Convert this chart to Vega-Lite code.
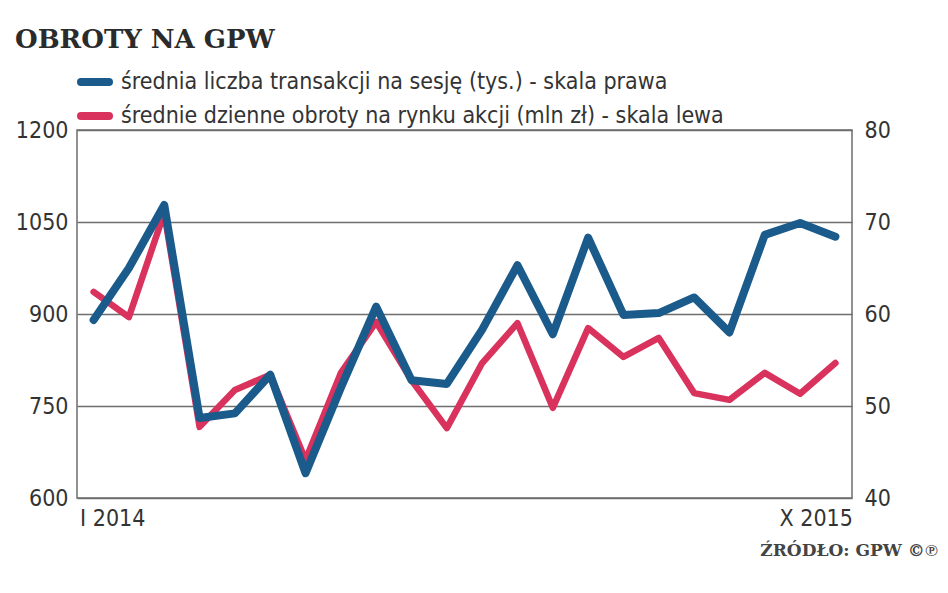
{
  "$schema": "https://vega.github.io/schema/vega-lite/v6.json",
  "width": 775,
  "height": 368,
  "autosize": {"type": "none"},
  "padding": {"left": 77, "top": 130, "right": 96, "bottom": 95},
  "background": "white",
  "title": {
    "text": "OBROTY NA GPW",
    "anchor": "start",
    "frame": "group",
    "font": "DejaVu Serif",
    "fontWeight": "bold",
    "fontSize": 26,
    "color": "#2b2b2b",
    "dx": -62,
    "offset": 11
  },
  "data": {
    "values": [
      {"m": "2014-01", "blue": 59.35, "red": 936},
      {"m": "2014-02", "blue": 65.0, "red": 895},
      {"m": "2014-03", "blue": 71.85, "red": 1065},
      {"m": "2014-04", "blue": 48.7, "red": 716},
      {"m": "2014-05", "blue": 49.2, "red": 776},
      {"m": "2014-06", "blue": 53.4, "red": 801},
      {"m": "2014-07", "blue": 42.7, "red": 662},
      {"m": "2014-08", "blue": 52.0, "red": 804},
      {"m": "2014-09", "blue": 60.8, "red": 887},
      {"m": "2014-10", "blue": 52.8, "red": 792},
      {"m": "2014-11", "blue": 52.4, "red": 714},
      {"m": "2014-12", "blue": 58.3, "red": 820},
      {"m": "2015-01", "blue": 65.3, "red": 885},
      {"m": "2015-02", "blue": 57.8, "red": 747},
      {"m": "2015-03", "blue": 68.3, "red": 877},
      {"m": "2015-04", "blue": 59.9, "red": 830},
      {"m": "2015-05", "blue": 60.1, "red": 861},
      {"m": "2015-06", "blue": 61.8, "red": 771},
      {"m": "2015-07", "blue": 58.0, "red": 760},
      {"m": "2015-08", "blue": 68.6, "red": 804},
      {"m": "2015-09", "blue": 69.9, "red": 770},
      {"m": "2015-10", "blue": 68.4, "red": 820}
    ]
  },
  "encoding": {
    "x": {
      "field": "m",
      "type": "ordinal",
      "scale": {"type": "point", "padding": 0.47},
      "axis": {
        "title": "ŹRÓDŁO: GPW ©℗",
        "titleFont": "DejaVu Serif",
        "titleFontWeight": "bold",
        "titleFontSize": 17,
        "titleColor": "#444444",
        "titleAnchor": "end",
        "titleAlign": "right",
        "titleBaseline": "alphabetic",
        "titleX": 860,
        "titleY": 57,
        "labelAngle": 0,
        "labelExpr": "datum.value == '2014-01' ? 'I 2014' : (datum.value == '2015-10' ? 'X 2015' : '')",
        "labelAlign": {"condition": {"test": "datum.value == '2014-01'", "value": "left"}, "value": "right"},
        "labelOffset": {"condition": {"test": "datum.value == '2014-01'", "value": -14}, "value": 17},
        "labelPadding": 9,
        "labelOverlap": false,
        "ticks": false,
        "domain": false,
        "grid": false
      }
    }
  },
  "layer": [
    {
      "mark": {"type": "line", "strokeWidth": 6.5, "strokeCap": "round", "strokeJoin": "round"},
      "encoding": {
        "y": {
          "field": "red",
          "type": "quantitative",
          "scale": {"domain": [600, 1200], "nice": false, "zero": false},
          "axis": {
            "orient": "left",
            "title": null,
            "format": "d",
            "values": [600, 750, 900, 1050, 1200],
            "grid": true,
            "gridColor": "#6e6e6e",
            "gridWidth": 1.5,
            "gridOpacity": 1,
            "ticks": false,
            "domain": false,
            "labelPadding": 9
          }
        },
        "color": {
          "datum": "średnie dzienne obroty na rynku akcji (mln zł) - skala lewa",
          "type": "nominal",
          "scale": {
            "domain": ["średnia liczba transakcji na sesję (tys.) - skala prawa", "średnie dzienne obroty na rynku akcji (mln zł) - skala lewa"],
            "range": ["#1b5b8b", "#d8325d"]
          },
          "legend": {
            "title": null,
            "orient": "none",
            "legendX": 0,
            "legendY": -66,
            "symbolType": "stroke",
            "symbolSize": 784,
            "symbolStrokeWidth": 8,
            "labelFontSize": 23,
            "labelColor": "#333333",
            "labelLimit": 800,
            "labelOffset": 8,
            "rowPadding": 0,
            "padding": 0,
            "encode": {"symbols": {"update": {"strokeCap": {"value": "round"}}}}
          }
        }
      }
    },
    {
      "mark": {"type": "line", "strokeWidth": 8, "strokeCap": "round", "strokeJoin": "round"},
      "encoding": {
        "y": {
          "field": "blue",
          "type": "quantitative",
          "scale": {"domain": [40, 80], "nice": false, "zero": false},
          "axis": {
            "orient": "right",
            "title": null,
            "values": [40, 50, 60, 70, 80],
            "grid": false,
            "ticks": false,
            "domain": false,
            "labelPadding": 12
          }
        },
        "color": {"datum": "średnia liczba transakcji na sesję (tys.) - skala prawa", "type": "nominal"}
      }
    }
  ],
  "resolve": {"scale": {"y": "independent"}},
  "config": {
    "font": "DejaVu Sans Condensed, Roboto",
    "view": {"stroke": "#6e6e6e", "strokeWidth": 1.5},
    "axis": {
      "labelFont": "DejaVu Sans Condensed, Roboto",
      "labelFontSize": 23,
      "labelColor": "#333333"
    },
    "legend": {
      "labelFont": "DejaVu Sans Condensed, Roboto"
    }
  }
}
